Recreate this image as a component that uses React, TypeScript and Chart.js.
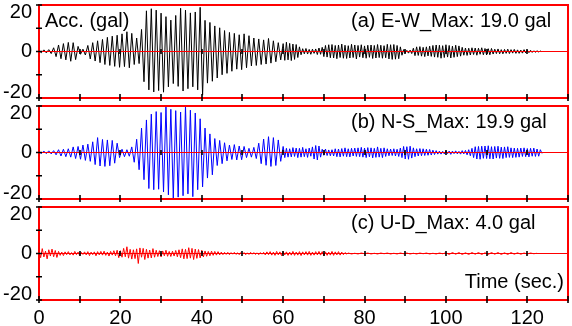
import React, { useEffect, useRef } from "react";
import { Chart, registerables } from "chart.js";

Chart.register(...registerables);

// ---------- axes ----------
const TIME_MIN = 0;
const TIME_MAX = 130;
const X_TICK_MARKS = [0, 10, 20, 30, 40, 50, 60, 70, 80, 90, 100, 110, 120, 130];
const X_LABEL_STEP = 20;
const ACC_MIN = -20;
const ACC_MAX = 20;
const Y_TICK_MARKS = [-20, -10, 0, 10, 20];
const Y_TICK_LABELS = [20, 0, -20];

// ---------- E-W (gal) ----------
const EW_EARLY_T0 = 0;
const EW_EARLY_DT = 0.6;
const EW_EARLY = [
  0.3, -0.5, 0.7, -0.6, 0.8, -0.9, 1.6, -2.2, 2.8, -3.1,
  3.4, -3.6, 3.9, -4.2, 3.8, -3.5, 2.2, -1.2, 1.0, -1.5,
  2.6, -3.2, 3.8, -4.1, 4.6, -4.8, 5.2, -5.6, 6.1, -6.0,
  6.6, -6.4, 7.0, -6.8, 7.6, -6.5, 8.5, -7.0, 7.8, -5.6,
  5.8, -5.2, 9.5, -13.0, 17.5, -16.5, 18.4, -17.4, 17.8, -16.8,
  16.5, -17.5, 15.0, -15.2, 13.5, -13.8, 15.5, -15.0, 18.6, -17.0,
  17.8, -16.0, 16.6, -15.2, 17.0, -16.5, 19.0, -18.8, 13.4, -13.6,
  12.5, -12.8, 11.0, -11.4, 10.2, -10.0, 9.0, -9.4, 8.2, -8.5,
  7.8, -7.6, 7.2, -7.8, 7.6, -7.0, 6.8, -6.2, 5.8, -6.0,
  5.4, -5.6, 5.0, -5.4, 5.6, -5.0, 4.6, -4.4, 3.8, -3.6,
];
const EW_LATE_T0 = 60;
const EW_LATE_DT = 0.4;
const EW_LATE = [
  3.4, -3.8, 4.0, -3.6, 3.5, -3.9, 3.2, -3.4, 3.0, -2.6,
  2.0, -1.4, 1.2, -1.0, 1.3, -1.1, 0.9, -1.2, 1.0, -0.8,
  1.1, -1.3, 1.5, -1.2, 1.8, -2.2, 2.6, -2.4, 2.9, -2.7,
  3.0, -2.8, 2.6, -3.1, 2.8, -2.6, 3.2, -2.9, 2.7, -3.0,
  2.5, -2.8, 3.1, -2.6, 2.8, -3.2, 2.6, -2.4, 2.9, -2.7,
  2.4, -2.9, 2.7, -2.5, 2.8, -3.0, 2.6, -2.8, 3.0, -2.6,
  2.7, -2.9, 2.5, -2.7, 3.1, -3.2, 2.9, -3.4, 3.0, -3.3,
  2.6, -3.1, 2.0, -1.6, 0.8, -0.6, 0.5, -0.7, 0.6, -0.9,
  1.4, -1.8, 2.0, -1.7, 2.1, -2.0, 1.8, -2.2, 2.0, -1.9,
  2.3, -2.1, 2.6, -2.4, 2.8, -2.5, 2.7, -2.9, 2.5, -2.6,
  2.9, -2.4, 2.6, -2.8, 2.3, -2.5, 2.7, -2.2, 2.4, -2.0,
  1.8, -1.6, 1.5, -1.7, 1.4, -1.5, 1.6, -1.3, 1.5, -1.6,
  1.4, -1.2, 1.6, -1.4, 1.3, -1.5, 1.2, -1.4, 1.3, -1.1,
  1.0, -0.9, 1.1, -1.0, 0.8, -1.0, 0.9, -0.8, 1.0, -0.9,
  0.8, -0.7, 0.9, -0.8, 0.7, -0.8, 0.6, -0.7, 0.8, -0.6,
  0.6, -0.5, 0.5, -0.4, 0.3, -0.3, 0.3, -0.2, 0.2, -0.1,
];

// ---------- N-S (gal) ----------
const NS_EARLY_T0 = 0;
const NS_EARLY_DT = 0.6;
const NS_EARLY = [
  0.2, -0.4, 0.6, -0.5, 0.7, -0.6, 0.8, -1.0, 1.2, -1.5,
  1.4, -1.8, 1.6, -2.0, 2.4, -2.6, 2.6, -2.9, 3.2, -3.4,
  3.6, -3.8, 4.6, -5.2, 6.4, -5.8, 5.6, -6.0, 5.4, -5.7,
  5.2, -4.6, 4.0, -2.2, 1.4, -1.8, 1.2, -1.6, 2.4, -4.2,
  5.7, -7.4, 10.5, -11.7, 14.0, -15.5, 16.5, -16.0, 17.6, -15.8,
  17.2, -17.0, 19.8, -18.2, 18.6, -19.6, 18.0, -19.2, 17.4, -18.6,
  19.9, -17.8, 18.2, -19.0, 17.0, -16.0, 14.5, -14.8, 10.5, -11.0,
  8.0, -9.6, 6.0, -5.6, 5.2, -4.8, 4.2, -3.6, 3.2, -3.0,
  3.4, -3.2, 2.8, -3.1, 2.6, -2.2, 1.8, -2.0, 2.2, -2.6,
  4.0, -4.8, 5.8, -5.5, 6.8, -6.0, 6.4, -5.6, 5.4, -3.8,
];
const NS_LATE_T0 = 60;
const NS_LATE_DT = 0.4;
const NS_LATE = [
  2.6, -2.2, 1.8, -2.0, 1.6, -1.9, 2.1, -1.7, 1.9, -2.2,
  1.8, -2.0, 2.2, -1.8, 1.6, -2.1, 1.9, -1.6, 2.4, -2.8,
  3.0, -3.2, 2.8, -2.0, 1.4, -1.2, 1.5, -1.3, 1.1, -1.4,
  1.2, -1.5, 1.6, -1.8, 1.5, -1.9, 1.7, -1.6, 2.0, -1.8,
  1.6, -1.9, 1.8, -1.5, 1.9, -1.7, 2.0, -1.8, 2.2, -2.0,
  1.9, -2.2, 2.1, -1.9, 2.0, -2.3, 1.8, -2.1, 2.4, -2.0,
  1.8, -2.2, 2.0, -1.7, 1.6, -1.4, 1.5, -1.3, 1.6, -1.5,
  1.4, -1.7, 1.9, -2.2, 2.6, -2.8, 2.5, -2.9, 2.7, -2.4,
  2.0, -1.8, 1.6, -1.5, 1.7, -1.4, 1.6, -1.3, 1.4, -1.2,
  1.3, -1.1, 1.0, -0.9, 0.8, -0.7, 0.6, -0.7, 0.5, -0.6,
  0.7, -0.5, 0.6, -0.8, 0.6, -0.5, 0.7, -0.6, 0.5, -0.7,
  0.8, -0.6, 0.9, -1.0, 1.2, -1.4, 1.8, -2.2, 2.5, -2.8,
  2.6, -2.9, 2.7, -2.5, 2.8, -2.6, 2.9, -2.7, 2.5, -2.8,
  2.6, -2.4, 2.7, -2.5, 2.3, -2.6, 2.4, -2.2, 2.5, -2.1,
  2.0, -2.2, 1.9, -2.1, 1.8, -2.0, 1.9, -1.7, 2.0, -1.8,
  1.7, -1.9, 1.8, -1.6, 1.9, -1.7, 1.5, -1.6, 1.2, -0.4,
];

// ---------- U-D (gal) ----------
const UD_EARLY_T0 = 0;
const UD_EARLY_DT = 0.4;
const UD_EARLY = [
  1.2, -1.8, 2.1, -1.5, 1.0, -2.3, 1.6, -1.1, 1.9, -1.4, 1.3, -1.7, 0.9,
  -0.8, 0.6, -0.9, 0.7, -0.5, 0.8, -0.6, 0.4, -0.7, 0.9, -0.5, 0.6, -0.8, 0.5, -0.4, 0.7, -0.6,
  0.8, -0.9, 0.6, -0.5, 0.7, -1.0, 0.8, -0.6, 0.9, -0.7, 1.0, -0.8, 0.6, -1.1, 0.9, -0.7, 1.2, -1.0,
  1.4, -1.8, 1.2, -1.6, 2.2, -1.4, 2.9, -2.0, 1.8, -2.4, 1.6, -2.2, 2.0, -4.3, 2.4, -1.6,
  2.2, -2.6, 1.8, -2.0, 1.5, -1.9, 2.1, -1.6, 1.4,
  -1.3, 1.2, -1.5, 1.1, -1.0, 1.4, -1.2, 0.9, -1.3, 1.0, -1.1, 1.3, -1.4, 1.6,
  -1.8, 2.0, -2.3, 1.8, -2.2, 2.5, -2.0, 2.2, -2.6, 1.9, -2.1, 1.7, -1.9, 1.4, -1.5,
  1.1, -1.2, 0.9, -1.0, 1.0, -0.8, 0.9, -0.7, 0.8, -0.6, 0.6, -0.5,
  0.5, -0.4, 0.5, -0.5, 0.4, -0.3, 0.5, -0.4, 0.3, -0.5, 0.4, -0.3, 0.4,
  -0.5, 0.3, -0.4, 0.5, -0.3, 0.4, -0.4, 0.3, -0.5, 0.4, -0.3, 0.5,
  -0.6, 0.7, -0.5, 0.8, -0.7, 0.6, -0.8, 0.9, -0.6, 0.7, -0.9, 0.8, -0.6, 0.7, -0.8, 0.6, -0.7,
  0.9, -0.8, 0.6, -0.7, 0.8, -0.9, 0.7, -0.6, 0.8, -0.7, 0.9, -0.8, 0.6, -0.7, 0.8, -0.6, 0.9,
  -0.7, 0.8, -0.9, 0.7, -0.8, 0.6, -0.7, 0.9, -0.8, 0.7, -0.6, 0.8, -0.7, 0.6, -0.5, 0.4, -0.2,
];
const UD_LATE_T0 = 76;
const UD_LATE_DT = 0.8;
const UD_LATE = [
  0.2, -0.2, 0.1, -0.2, 0.2, -0.1, 0.2, -0.2, 0.1, -0.2,
  0.2, -0.1, 0.2, -0.2, 0.1, -0.2, 0.2, -0.1, 0.2, -0.2,
  0.1, -0.2, 0.2, -0.1, 0.2, -0.2, 0.1, -0.2, 0.2, -0.1,
  0.3, -0.4, 0.4, -0.3, 0.4, -0.4, 0.3, -0.4, 0.4, -0.3,
  0.4, -0.4, 0.3, -0.4, 0.4, -0.3, 0.4, -0.4, 0.3, -0.4,
  0.4, -0.3, 0.3, -0.3, 0.2, -0.2, 0.2, -0.1, 0.1,
];

// ---------- texts ----------
const Y_TITLE = "Acc. (gal)";
const X_TITLE = "Time (sec.)";
const TITLE_EW = "(a) E-W_Max: 19.0 gal";
const TITLE_NS = "(b) N-S_Max: 19.9 gal";
const TITLE_UD = "(c) U-D_Max: 4.0 gal";

const FONT_FAMILY = "'Liberation Sans', Arial, Helvetica, sans-serif";
const W = 572;
const H = 326;

function toPoints(t0: number, dt: number, values: number[]) {
  return values.map((v, i) => ({ x: Math.round((t0 + i * dt) * 100) / 100, y: v }));
}

type PanelCfg = {
  points: { x: number; y: number }[];
  color: string;
  title: string;
  top: number;
  bottom: number;
  showXLabels: boolean;
  showYTitle: boolean;
  showXTitle: boolean;
};

function decorPlugin(cfg: PanelCfg) {
  return {
    id: "panelDecor",
    afterDraw(chart: any) {
      const { ctx, chartArea } = chart;
      const xs = chart.scales.x;
      const ys = chart.scales.y;
      const { left, right, top, bottom } = chartArea;
      const y0 = ys.getPixelForValue(0);
      ctx.save();
      // zero axis
      ctx.strokeStyle = "#ff0000";
      ctx.lineWidth = 1;
      ctx.beginPath();
      ctx.moveTo(left, y0);
      ctx.lineTo(right, y0);
      ctx.stroke();
      // ticks on zero axis
      ctx.strokeStyle = "#000";
      ctx.lineWidth = 1.6;
      ctx.beginPath();
      X_TICK_MARKS.forEach((t) => {
        const px = Math.round(xs.getPixelForValue(t));
        ctx.moveTo(px, y0 - 2.5);
        ctx.lineTo(px, y0 + 2.5);
      });
      ctx.stroke();
      // frame
      ctx.strokeStyle = "#ff0000";
      ctx.lineWidth = 2;
      ctx.strokeRect(left, top, right - left, bottom - top);
      // bottom ticks
      ctx.strokeStyle = "#000";
      ctx.lineWidth = 1.6;
      ctx.beginPath();
      X_TICK_MARKS.forEach((t) => {
        const px = Math.round(xs.getPixelForValue(t));
        ctx.moveTo(px, bottom - 4);
        ctx.lineTo(px, bottom + 3);
      });
      // left ticks
      Y_TICK_MARKS.forEach((v) => {
        const py = ys.getPixelForValue(v);
        ctx.moveTo(left - 3, py);
        ctx.lineTo(left + 3, py);
      });
      ctx.stroke();
      // y labels
      ctx.fillStyle = "#000";
      ctx.font = `20px ${FONT_FAMILY}`;
      ctx.textAlign = "right";
      ctx.textBaseline = "middle";
      Y_TICK_LABELS.forEach((v) => {
        let py = ys.getPixelForValue(v);
        py = Math.min(Math.max(py, top + 7.5), bottom - 5.5);
        ctx.fillText(String(v), 32, py);
      });
      // titles
      ctx.textBaseline = "alphabetic";
      ctx.textAlign = "left";
      ctx.fillText(cfg.title, 351, top + 22);
      if (cfg.showYTitle) ctx.fillText(Y_TITLE, 45, top + 22);
      if (cfg.showXTitle) {
        ctx.textAlign = "right";
        ctx.fillText(X_TITLE, 564, bottom - 12);
      }
      ctx.restore();
    },
  };
}

function buildChart(canvas: HTMLCanvasElement, cfg: PanelCfg) {
  const xScale: any = {
    type: "linear",
    min: TIME_MIN,
    max: TIME_MAX,
    display: cfg.showXLabels,
    grid: { display: false },
    border: { display: false },
    ticks: {
      stepSize: X_LABEL_STEP,
      includeBounds: false,
      autoSkip: false,
      maxRotation: 0,
      minRotation: 0,
      padding: -2,
      color: "#000",
      font: { family: FONT_FAMILY, size: 20 },
    },
  };
  if (cfg.showXLabels) {
    xScale.afterFit = (s: any) => {
      s.height = H - cfg.bottom;
    };
  }
  return new Chart(canvas, {
    type: "line",
    data: {
      datasets: [
        {
          data: cfg.points,
          borderColor: cfg.color,
          borderWidth: 1,
          pointRadius: 0,
          fill: false,
          tension: 0,
        },
      ],
    },
    options: {
      responsive: false,
      animation: false,
      devicePixelRatio: 1,
      events: [],
      layout: {
        padding: {
          left: 39,
          right: W - 568,
          top: cfg.top,
          bottom: cfg.showXLabels ? 0 : H - cfg.bottom,
        },
      },
      plugins: {
        legend: { display: false },
        tooltip: { enabled: false },
        title: { display: false },
      },
      scales: {
        x: xScale,
        y: {
          type: "linear",
          min: ACC_MIN,
          max: ACC_MAX,
          display: false,
        },
      },
    } as any,
    plugins: [decorPlugin(cfg)],
  });
}

export default function App() {
  const refA = useRef<HTMLCanvasElement>(null);
  const refB = useRef<HTMLCanvasElement>(null);
  const refC = useRef<HTMLCanvasElement>(null);

  useEffect(() => {
    const ew = [...toPoints(EW_EARLY_T0, EW_EARLY_DT, EW_EARLY), ...toPoints(EW_LATE_T0, EW_LATE_DT, EW_LATE)];
    const ns = [...toPoints(NS_EARLY_T0, NS_EARLY_DT, NS_EARLY), ...toPoints(NS_LATE_T0, NS_LATE_DT, NS_LATE)];
    const ud = [...toPoints(UD_EARLY_T0, UD_EARLY_DT, UD_EARLY), ...toPoints(UD_LATE_T0, UD_LATE_DT, UD_LATE)];
    const charts = [
      buildChart(refA.current!, { points: ew, color: "#000000", title: TITLE_EW, top: 5, bottom: 98, showXLabels: false, showYTitle: true, showXTitle: false }),
      buildChart(refB.current!, { points: ns, color: "#0000ff", title: TITLE_NS, top: 106, bottom: 199, showXLabels: false, showYTitle: false, showXTitle: false }),
      buildChart(refC.current!, { points: ud, color: "#ff0000", title: TITLE_UD, top: 207, bottom: 300, showXLabels: true, showYTitle: false, showXTitle: true }),
    ];
    return () => charts.forEach((c) => c.destroy());
  }, []);

  const cs: React.CSSProperties = { position: "absolute", left: 0, top: 0, width: W, height: H };
  return (
    <div style={{ position: "absolute", left: 0, top: 0, width: W, height: H, background: "#fff" }}>
      <canvas ref={refA} width={W} height={H} style={cs} />
      <canvas ref={refB} width={W} height={H} style={cs} />
      <canvas ref={refC} width={W} height={H} style={cs} />
    </div>
  );
}
